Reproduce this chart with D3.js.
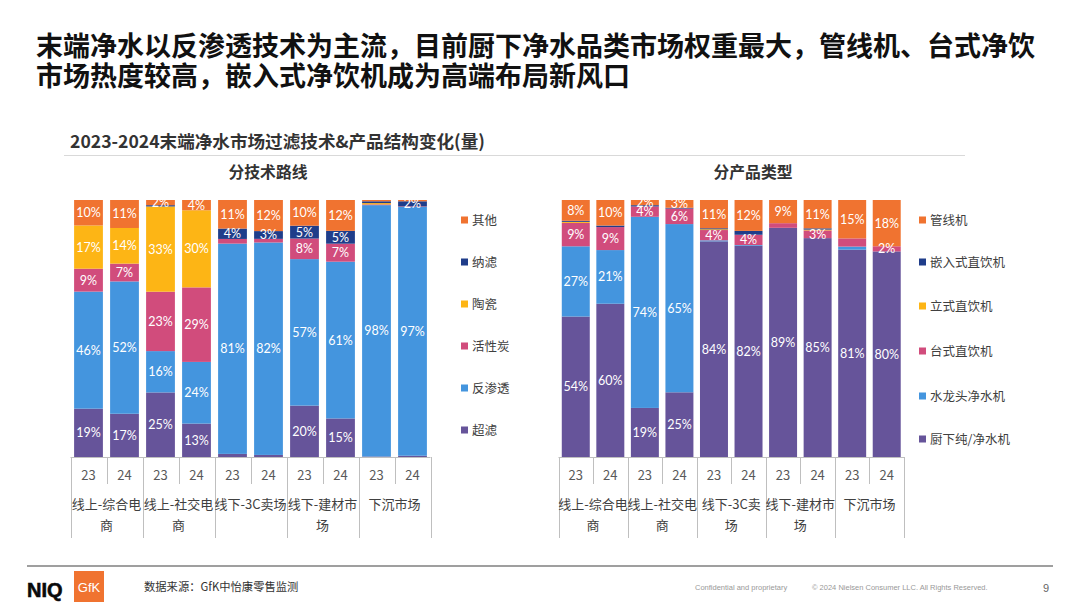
<!DOCTYPE html>
<html><head><meta charset="utf-8">
<script src="https://cdn.jsdelivr.net/npm/d3@7"></script>
<style>body{margin:0;background:#fff}svg{display:block}</style>
</head><body><svg id="c" width="1080" height="607"></svg>
<script>
// ---------- DATA ----------
const years = ["23","24"];
const groups = ["线上-综合电商","线上-社交电商","线下-3C卖场","线下-建材市场","下沉市场"];
const techGroupLines = [["线上-综合电","商"],["线上-社交电","商"],["线下-3C卖场"],["线下-建材市","场"],["下沉市场"]];
const prodGroupLines = [["线上-综合电","商"],["线上-社交电","商"],["线下-3C卖","场"],["线下-建材市","场"],["下沉市场"]];

// technology route, stacked bottom -> top
const techSeries = ["超滤","反渗透","活性炭","陶瓷","纳滤","其他"];
const techUF      = [19,17,25,13,1.2,0.8,20,15,0.2,0.5];
const techRO      = [46,52,16,24,81,82,57,61,98,97];
const techCarbon  = [9,7,23,29,1.8,1.4,8,7,0.3,0.2];
const techCeramic = [17,14,33,30,0,0,0,0,0.5,0];
const techNF      = [0,0,0.5,0,4,3,5,5,0.7,2];
const techOther   = [10,11,2,4,11,12,10,12,0.5,0.5];

// product type, stacked bottom -> top
const prodSeries = ["厨下纯/净水机","水龙头净水机","台式直饮机","立式直饮机","嵌入式直饮机","管线机"];
const prodUnder    = [54,60,19,25,84,82,89,85,81,80];
const prodFaucet   = [27,21,74,65,0.4,0.3,0,0,1.2,0];
const prodCounter  = [9,9,4,6,4,4,1.8,3,3.2,2];
const prodStanding = [0.4,0,0,0,0.3,0,0,0.3,0,0];
const prodEmbedded = [0.4,0.6,0.5,0.3,0.4,1.5,0,0.5,0,0];
const prodPipeline = [8,10,2,3,11,12,9,11,15,18];

const colors = ["#66549A","#4495DE","#D14C7C","#FDB515","#1F3D8A","#F07330"];

// ---------- DRAW ----------
const svg = d3.select("#c");
const CJK = "'Noto Sans CJK SC','Noto Sans',sans-serif";
const NUM = "Lato,'Noto Sans',sans-serif";

// title
const title = ["末端净水以反渗透技术为主流，目前厨下净水品类市场权重最大，管线机、台式净饮","市场热度较高，嵌入式净饮机成为高端布局新风口"];
svg.selectAll("text.title").data(title).join("text").attr("class","title")
  .attr("x",36).attr("y",(d,i)=>56+i*30)
  .style("font-family",CJK).style("font-weight",700).style("font-size","27px").style("fill","#111")
  .text(d=>d);

svg.append("text").attr("x",70).attr("y",148)
  .style("font-family",CJK).style("font-weight",700).style("font-size","17.6px").style("fill","#333")
  .text("2023-2024末端净水市场过滤技术&产品结构变化(量)");
svg.append("line").attr("x1",64).attr("x2",965).attr("y1",155.5).attr("y2",155.5)
  .style("stroke","#d9d9d9").style("stroke-width",1);

function drawChart(opt){
  const keys = opt.series;
  const n = opt.values[0].length;
  const rows = d3.range(n).map(i=>{
    const r = {idx:i};
    keys.forEach((k,j)=>r[k]=opt.values[j][i]);
    return r;
  });
  const stack = d3.stack().keys(keys).offset(d3.stackOffsetExpand);
  const layers = stack(rows);
  const x = d3.scaleBand().domain(d3.range(n)).range(opt.xr).paddingInner(opt.pad).paddingOuter(opt.pad/2);
  const y = d3.scaleLinear().domain([0,1]).range([457,200]);
  const g = svg.append("g");

  g.append("text").attr("x",opt.subX).attr("y",178).attr("text-anchor","middle")
    .style("font-family",CJK).style("font-weight",700).style("font-size","15.8px").style("fill","#333")
    .text(opt.subtitle);

  const lay = g.selectAll("g.layer").data(layers).join("g").attr("fill",(d,i)=>colors[i]);
  lay.selectAll("rect").data(d=>d).join("rect")
    .attr("x",d=>x(d.data.idx)).attr("width",x.bandwidth())
    .attr("y",d=>y(d[1])).attr("height",d=>Math.max(0,y(d[0])-y(d[1])));

  layers.forEach((L,j)=>{
    L.forEach((d)=>{
      const v = opt.values[j][d.data.idx];
      if(v>=2 && Number.isInteger(v)){
        g.append("text").attr("x",x(d.data.idx)+x.bandwidth()/2).attr("y",(y(d[0])+y(d[1]))/2)
          .attr("text-anchor","middle").attr("dy","0.36em")
          .style("font-family",NUM).style("font-size","12.5px").style("fill","#fff")
          .text(v+"%");
      }
    });
  });

  // category axis table
  const step = x.step();
  const ax = g.append("g").style("stroke","#bfbfbf").style("stroke-width",1);
  const x0 = opt.xr[0];
  ax.append("line").attr("x1",x0).attr("x2",opt.xr[1]).attr("y1",457.5).attr("y2",457.5);
  for(let i=0;i<=n;i++){
    const xx = Math.round(x0 + i*step)+0.5;
    const long = i%2===0;
    ax.append("line").attr("x1",xx).attr("x2",xx).attr("y1",457).attr("y2",long?538:484);
  }
  d3.range(n).forEach(i=>{
    g.append("text").attr("x",x(i)+x.bandwidth()/2).attr("y",475).attr("dy","0.36em").attr("text-anchor","middle")
      .style("font-family",CJK).style("font-size","13px").style("fill","#595959").text(years[i%2]);
  });
  opt.groupLines.forEach((lines,gi)=>{
    const cx = x0 + (gi*2+1)*step;
    lines.forEach((ln,li)=>{
      g.append("text").attr("x",cx).attr("y",504+li*21).attr("dy","0.36em").attr("text-anchor","middle")
        .style("font-family",CJK).style("font-size","13px").style("fill","#404040").text(ln);
    });
  });

  // legend (top to bottom)
  const leg = keys.map((k,i)=>({k,c:colors[i]})).reverse();
  leg.forEach((d,i)=>{
    const yy = opt.legendY[i];
    g.append("rect").attr("x",opt.legendX).attr("y",yy-3.5).attr("width",7).attr("height",7).attr("fill",d.c);
    g.append("text").attr("x",opt.legendX+11).attr("y",yy).attr("dy","0.36em")
      .style("font-family",CJK).style("font-size","12.5px").style("fill","#404040").text(d.k);
  });
}

drawChart({
  series: techSeries,
  values: [techUF,techRO,techCarbon,techCeramic,techNF,techOther],
  xr: [70.5,430.5], pad: 0.2, subtitle: "分技术路线", subX: 268,
  groupLines: techGroupLines,
  legendX: 461, legendY: [220,262,304,346,388,430]
});
drawChart({
  series: prodSeries,
  values: [prodUnder,prodFaucet,prodCounter,prodStanding,prodEmbedded,prodPipeline],
  xr: [558.5,904], pad: 0.19, subtitle: "分产品类型", subX: 753,
  groupLines: prodGroupLines,
  legendX: 919, legendY: [220,262,306,351,396,439]
});

// footer
svg.append("line").attr("x1",27).attr("x2",1053).attr("y1",566).attr("y2",566)
  .style("stroke","#7f7f7f").style("stroke-width",1.5);
svg.append("text").attr("x",27).attr("y",597)
  .style("font-family","'Liberation Sans',Arial,sans-serif").style("font-weight",700).style("font-size","20px").style("fill","#0a0a0a")
  .style("stroke","#0a0a0a").style("stroke-width",0.6)
  .text("NIQ");
svg.append("rect").attr("x",74).attr("y",571).attr("width",30).attr("height",31).attr("fill","#F07330");
svg.append("text").attr("x",89).attr("y",592).attr("text-anchor","middle")
  .style("font-family","'Liberation Sans Narrow','Liberation Sans',sans-serif").style("font-size","13px").style("fill","#fff")
  .text("GfK");
svg.append("text").attr("x",144).attr("y",591)
  .style("font-family",CJK).style("font-size","11.3px").style("fill","#333")
  .text("数据来源：GfK中怡康零售监测");
svg.append("text").attr("x",695).attr("y",590)
  .style("font-family","'Liberation Sans',sans-serif").style("font-size","7.5px").style("fill","#999")
  .text("Confidential and proprietary");
svg.append("text").attr("x",812).attr("y",590)
  .style("font-family","'Liberation Sans',sans-serif").style("font-size","7.5px").style("fill","#999")
  .text("© 2024 Nielsen Consumer LLC. All Rights Reserved.");
svg.append("text").attr("x",1043).attr("y",592)
  .style("font-family","'Liberation Sans',sans-serif").style("font-size","11px").style("fill","#666")
  .text("9");
</script></body></html>
